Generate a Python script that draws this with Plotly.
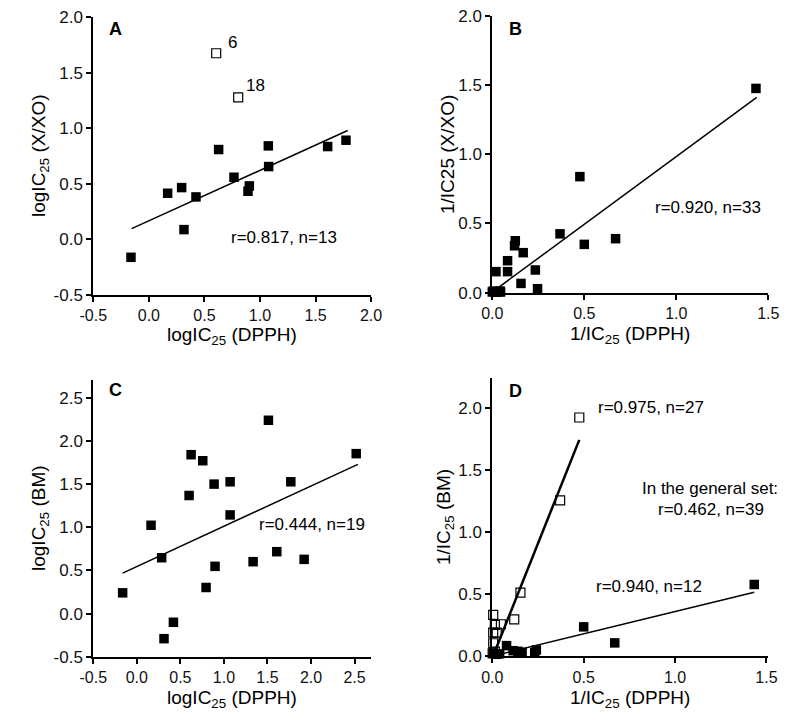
import plotly.graph_objects as go

# ---------------- Panel A ----------------
a_x = [-0.161, 0.169, 0.295, 0.424, 0.316, 0.628, 0.766, 0.904, 0.892, 1.075, 1.078, 1.609, 1.774]
a_y = [-0.161, 0.415, 0.466, 0.382, 0.088, 0.808, 0.559, 0.481, 0.433, 0.841, 0.655, 0.835, 0.892]
a_out_x = [0.606, 0.804]
a_out_y = [1.674, 1.278]
a_out_labels = ["6", "18"]
a_fit_x = [-0.155, 1.789]
a_fit_y = [0.097, 0.979]

# ---------------- Panel B ----------------
b_x = [0.0, 0.015, 0.03, 0.045, 0.005, 0.042, 0.02, 0.083, 0.083, 0.125, 0.121, 0.168,
       0.156, 0.234, 0.246, 0.368, 0.476, 0.5, 0.670, 1.433]
b_y = [0.005, 0.005, 0.005, 0.005, 0.012, 0.012, 0.152, 0.231, 0.152, 0.375, 0.339, 0.289,
       0.067, 0.164, 0.029, 0.425, 0.838, 0.349, 0.390, 1.475]
b_fit_x = [0.005, 1.437]
b_fit_y = [0.01, 1.41]

# ---------------- Panel C ----------------
c_x = [-0.163, 0.163, 0.285, 0.312, 0.420, 0.600, 0.623, 0.757, 0.795, 0.887, 0.898, 1.071,
       1.071, 1.335, 1.511, 1.607, 1.768, 1.921, 2.519]
c_y = [0.240, 1.023, 0.647, -0.291, -0.101, 1.368, 1.841, 1.771, 0.302, 1.500, 0.547, 1.527,
       1.143, 0.601, 2.240, 0.717, 1.527, 0.628, 1.853]
c_fit_x = [-0.163, 2.538]
c_fit_y = [0.469, 1.729]

# ---------------- Panel D ----------------
d_open_x = [0.476, 0.371, 0.154, 0.120, 0.005, 0.014, 0.047, 0.005, 0.024, 0.005, 0.014, 0.002]
d_open_y = [1.922, 1.255, 0.513, 0.298, 0.333, 0.253, 0.258, 0.191, 0.191, 0.105, 0.038, 0.024]
d_fill_x = [1.433, 0.5, 0.670, 0.078, 0.114, 0.140, 0.163, 0.232, 0.241, 0.024, 0.005, 0.040]
d_fill_y = [0.578, 0.237, 0.108, 0.086, 0.045, 0.040, 0.032, 0.030, 0.051, 0.016, 0.024, 0.020]
d_open_fit_x = [0.0145, 0.476]
d_open_fit_y = [0.04, 1.742]
d_fill_fit_x = [0.011, 1.433]
d_fill_fit_y = [0.005, 0.516]

# ---------------- Tick labels ----------------
ticks_m05_20 = [-0.5, 0.0, 0.5, 1.0, 1.5, 2.0]
ticks_m05_20_text = ["-0.5", "0.0", "0.5", "1.0", "1.5", "2.0"]
ticks_m05_25 = [-0.5, 0.0, 0.5, 1.0, 1.5, 2.0, 2.5]
ticks_m05_25_text = ["-0.5", "0.0", "0.5", "1.0", "1.5", "2.0", "2.5"]
ticks_0_15 = [0.0, 0.5, 1.0, 1.5]
ticks_0_15_text = ["0.0", "0.5", "1.0", "1.5"]
ticks_0_20 = [0.0, 0.5, 1.0, 1.5, 2.0]
ticks_0_20_text = ["0.0", "0.5", "1.0", "1.5", "2.0"]

FONT = "Liberation Sans, Arial, sans-serif"
W, H = 800, 726

fig = go.Figure()

filled = dict(symbol="square", size=9.5, color="black", line=dict(width=0))
openm = dict(symbol="square-open", size=9, color="black", line=dict(width=1.2))


def add(x, y, xa, ya, mode="markers", marker=None, line=None):
    fig.add_trace(go.Scatter(x=x, y=y, xaxis=xa, yaxis=ya, mode=mode, marker=marker,
                             line=line, cliponaxis=False, showlegend=False, hoverinfo="skip"))

# A
add(a_fit_x, a_fit_y, "x", "y", mode="lines", line=dict(color="black", width=1.5))
add(a_x, a_y, "x", "y", marker=filled)
add(a_out_x, a_out_y, "x", "y", marker=openm)
# B
add(b_fit_x, b_fit_y, "x2", "y2", mode="lines", line=dict(color="black", width=1.5))
add(b_x, b_y, "x2", "y2", marker=filled)
# C
add(c_fit_x, c_fit_y, "x3", "y3", mode="lines", line=dict(color="black", width=1.5))
add(c_x, c_y, "x3", "y3", marker=filled)
# D
add(d_open_fit_x, d_open_fit_y, "x4", "y4", mode="lines", line=dict(color="black", width=2.5))
add(d_fill_fit_x, d_fill_fit_y, "x4", "y4", mode="lines", line=dict(color="black", width=1.5))
add(d_open_x, d_open_y, "x4", "y4", marker=openm)
add(d_fill_x, d_fill_y, "x4", "y4", marker=filled)


def px_x(p):
    return p / W


def px_y(p):
    return 1 - p / H


def axis(dom, rng, tv, tt, anchor, fsize):
    return dict(domain=dom, range=rng, tickvals=tv, ticktext=tt, anchor=anchor,
                showline=True, linecolor="black", linewidth=2, ticks="outside",
                ticklen=5, tickwidth=2, tickcolor="black", showgrid=False, zeroline=False,
                automargin=False,
                tickfont=dict(family=FONT, size=fsize, color="#111"), fixedrange=True)


xdA = [px_x(93.3), px_x(371.1)]
xdB = [px_x(492.3), px_x(768.3)]
fig.update_layout(
    xaxis=axis(xdA, [-0.5, 2.0], ticks_m05_20, ticks_m05_20_text, "y", 16),
    yaxis=axis([px_y(295), px_y(17)], [-0.5, 2.0], ticks_m05_20, ticks_m05_20_text, "x", 17),
    xaxis2=axis(xdB, [0, 1.5], ticks_0_15, ticks_0_15_text, "y2", 16),
    yaxis2=axis([px_y(292.7), px_y(15.7)], [0, 2.0], ticks_0_20, ticks_0_20_text, "x2", 17),
    xaxis3=axis(xdA, [-0.5, 2.69], ticks_m05_25, ticks_m05_25_text, "y3", 16),
    yaxis3=axis([px_y(656.7), px_y(379.7)], [-0.5, 2.71], ticks_m05_25, ticks_m05_25_text, "x3", 17),
    xaxis4=axis(xdB, [0, 1.51], ticks_0_15, ticks_0_15_text, "y4", 16),
    yaxis4=axis([px_y(656.3), px_y(378)], [0, 2.24], ticks_0_20, ticks_0_20_text, "x4", 17),
    width=W, height=H, autosize=False,
    margin=dict(l=0, r=0, t=0, b=0, pad=0, autoexpand=False),
    paper_bgcolor="white", plot_bgcolor="white",
    font=dict(family=FONT, color="black"),
)

ann = []


def paper_text(text, x, y, size=19, angle=0, bold=False):
    ann.append(dict(text=("<b>%s</b>" % text) if bold else text, x=px_x(x), y=px_y(y),
                    xref="paper", yref="paper", showarrow=False, textangle=angle,
                    font=dict(family=FONT, size=size, color="black"),
                    xanchor="center", yanchor="middle"))


def data_text(text, x, y, xa, ya, size=17, xanchor="center"):
    ann.append(dict(text=text, x=x, y=y, xref=xa, yref=ya, showarrow=False,
                    font=dict(family=FONT, size=size, color="black"),
                    xanchor=xanchor, yanchor="middle"))

# panel letters
paper_text("A", 115.5, 29, size=18, bold=True)
paper_text("B", 515.5, 29, size=18, bold=True)
paper_text("C", 115.5, 390, size=18, bold=True)
paper_text("D", 515.5, 391, size=18, bold=True)

# axis titles
paper_text("logIC<sub>25</sub> (X/XO)", 40, 156, angle=-90)
paper_text("logIC<sub>25</sub> (DPPH)", 232, 336)
paper_text("1/IC25 (X/XO)", 447, 155, angle=-90)
paper_text("1/IC<sub>25</sub> (DPPH)", 630, 335)
paper_text("logIC<sub>25</sub> (BM)", 40, 518, angle=-90)
paper_text("logIC<sub>25</sub> (DPPH)", 232, 699)
paper_text("1/IC<sub>25</sub> (BM)", 445, 517, angle=-90)
paper_text("1/IC<sub>25</sub> (DPPH)", 630, 699)

# in-plot texts
data_text("r=0.817, n=13", 1.217, 0.019, "x", "y")
for lx, ly, lt in zip([0.69, 0.86], [1.77, 1.38], a_out_labels):
    data_text(lt, lx, ly, "x", "y", xanchor="left")
data_text("r=0.920, n=33", 1.17, 0.616, "x2", "y2")
data_text("r=0.444, n=19", 2.017, 1.031, "x3", "y3")
data_text("r=0.975, n=27", 0.866, 2.003, "x4", "y4")
data_text("In the general set:", 1.19, 1.352, "x4", "y4")
data_text("r=0.462, n=39", 1.194, 1.183, "x4", "y4")
data_text("r=0.940, n=12", 0.859, 0.559, "x4", "y4")

fig.update_layout(annotations=ann)
fig.write_html("out.html", config={"displayModeBar": False},
               post_script="document.body.style.margin='0px';document.body.style.padding='0px';")
